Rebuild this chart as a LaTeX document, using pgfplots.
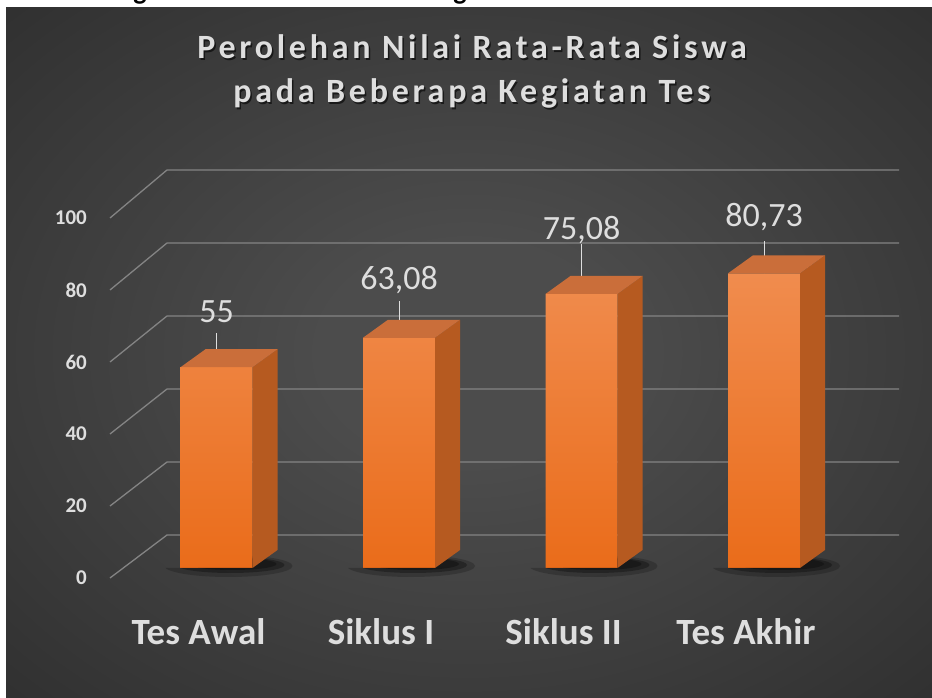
\documentclass[border=0pt]{standalone}
\usepackage{pgfplots}
\pgfplotsset{compat=1.18}
\usepackage{pgfplotstable}
\usepackage{fontspec}
\setmainfont{Carlito}
\newfontfamily\titlefont[LetterSpace=11]{Carlito}

\definecolor{bgin}{RGB}{76,76,76}
\definecolor{bgout}{RGB}{34,34,34}
\definecolor{gridc}{RGB}{132,132,132}
\definecolor{txt}{RGB}{222,222,222}
\definecolor{fronttop}{RGB}{240,140,78}
\definecolor{frontmid}{RGB}{247,126,36}
\definecolor{frontbot}{RGB}{234,108,26}
\definecolor{topface}{RGB}{202,110,58}
\definecolor{sideface}{RGB}{182,90,32}

\pgfdeclareradialshading{bgshade}{\pgfpoint{0bp}{0bp}}{color(0bp)=(bgin); color(8bp)=(bgin); color(50bp)=(bgout)}

\pgfplotstableread{
x v e s
0 55 9.3 45
1 63.08 10.1 48
2 75.08 13.7 54
3 80.73 8.8 47
}\data

% depth faces of a 3D bar, drawn at the front-top centre of each bar
\pgfdeclareplotmark{bardepth}{%
  \pgfmathsetmacro\hb{-\barval*3.65}%
  \pgfscope
    % clip the shadow to the floor below the bar and to the right of it
    \pgfpathrectanglecorners{\pgfpoint{-90pt}{\hb pt - 30pt}}{\pgfpoint{110pt}{\hb pt}}%
    \pgfpathrectanglecorners{\pgfpoint{36pt}{\hb pt}}{\pgfpoint{110pt}{\hb pt + 30pt}}%
    \pgfusepath{clip}%
    \pgfsetfillcolor{black}\pgfsetfillopacity{0.2}%
    \pgfpathellipse{\pgfpoint{12pt}{\hb pt + 2pt}}{\pgfpoint{64pt}{0pt}}{\pgfpoint{0pt}{11pt}}%
    \pgfusepath{fill}%
    \pgfsetfillopacity{0.3}%
    \pgfpathellipse{\pgfpoint{14pt}{\hb pt + 3pt}}{\pgfpoint{54pt}{0pt}}{\pgfpoint{0pt}{8pt}}%
    \pgfusepath{fill}%
    \pgfsetfillopacity{0.3}%
    \pgfpathellipse{\pgfpoint{16pt}{\hb pt + 4pt}}{\pgfpoint{44pt}{0pt}}{\pgfpoint{0pt}{6pt}}%
    \pgfusepath{fill}%
  \endpgfscope
  \pgfscope
    \pgfsetfillcolor{sideface}%
    \pgfpathmoveto{\pgfpoint{36pt}{0pt}}%
    \pgfpathlineto{\pgfpoint{61pt}{18pt}}%
    \pgfpathlineto{\pgfpoint{61pt}{\hb pt + 18pt}}%
    \pgfpathlineto{\pgfpoint{36pt}{\hb pt}}%
    \pgfpathclose
    \pgfusepath{fill}%
    \pgfsetfillcolor{topface}%
    \pgfpathmoveto{\pgfpoint{-36pt}{0pt}}%
    \pgfpathlineto{\pgfpoint{36pt}{0pt}}%
    \pgfpathlineto{\pgfpoint{61pt}{18pt}}%
    \pgfpathlineto{\pgfpoint{-11pt}{18pt}}%
    \pgfpathclose
    \pgfusepath{fill}%
  \endpgfscope
}

\begin{document}
\begin{tikzpicture}[x=1pt,y=1pt]
\useasboundingbox (0,0) rectangle (932,698);
\fill[white] (0,0) rectangle (932,698);
\shade[shading=bgshade] (6,0) rectangle (932,690);
\begin{scope}
\clip (0,690) rectangle (932,698);
\node[anchor=base, inner sep=0pt, font=\bfseries\fontsize{28}{28}\selectfont] at (140,698) {g};
\node[anchor=base, inner sep=0pt, font=\bfseries\fontsize{28}{28}\selectfont] at (460,698) {g};
\end{scope}

% title
\node[anchor=base, text=black, opacity=0.6, font=\titlefont\bfseries\fontsize{34}{34}\selectfont] at (473.5,637.5) {Perolehan Nilai Rata-Rata Siswa};
\node[anchor=base, text=txt, font=\titlefont\bfseries\fontsize{34}{34}\selectfont] at (472,639) {Perolehan Nilai Rata-Rata Siswa};
\node[anchor=base, text=black, opacity=0.6, font=\titlefont\bfseries\fontsize{34}{34}\selectfont] at (473.5,593.5) {pada Beberapa Kegiatan Tes};
\node[anchor=base, text=txt, font=\titlefont\bfseries\fontsize{34}{34}\selectfont] at (472,595) {pada Beberapa Kegiatan Tes};

% back wall with gridlines and value axis
\begin{axis}[
  at={(110pt,120pt)}, anchor=south west,
  scale only axis, width=789pt, height=360pt,
  xmin=0, xmax=1, ymin=0, ymax=100,
  axis line style={draw=none}, major tick length=0pt,
  xtick=\empty, ytick={0,20,40,60,80,100},
  /pgf/number format/assume math mode=true,
  yticklabel style={font=\bfseries\fontsize{21}{21}\selectfont, text=txt, anchor=east, inner sep=0pt, xshift=-23pt},
  clip=false,
]
\pgfplotsinvokeforeach{0,20,40,60,80,100}{
  \draw[gridc, line width=1.3pt] (axis cs:0,#1) -- ++(57pt,{(43+0.05*#1)*1pt}) -- ++(732pt,0pt);
}
\end{axis}

% bars
\begin{axis}[
  at={(125.25pt,130pt)}, anchor=south west,
  scale only axis, width=730pt, height=365pt,
  xmin=-0.5, xmax=3.5, ymin=0, ymax=100,
  axis line style={draw=none}, major tick length=0pt,
  ytick=\empty, xtick={0,1,2,3},
  xticklabels={Tes Awal,Siklus I,Siklus II,Tes Akhir},
  xticklabel style={font=\bfseries\fontsize{37}{37}\selectfont, text=txt, anchor=base, xshift=-18pt, yshift=-77pt},
  /pgf/number format/.cd, use comma, fixed, precision=2, assume math mode=true,
  /pgfplots/.cd,
  clip=false,
]
\addplot[only marks, mark=bardepth, visualization depends on={\thisrow{v}\as\barval}]
  table[x=x, y=v] {\data};
\addplot[ybar, bar width=72pt, draw=none, top color=fronttop, middle color=frontmid, bottom color=frontbot]
  table[x=x, y=v] {\data};
\addplot[draw=none, mark=none,
  visualization depends on={\thisrow{s}\as\lshift},
  nodes near coords,
  nodes near coords style={font=\fontsize{34}{34}\selectfont, text=txt, anchor=base, yshift=\lshift pt},
  error bars/.cd, y dir=plus, y explicit, error mark=none,
  error bar style={draw=txt, line width=0.9pt}]
  table[x=x, y=v, y error=e] {\data};
\end{axis}
\end{tikzpicture}
\end{document}
